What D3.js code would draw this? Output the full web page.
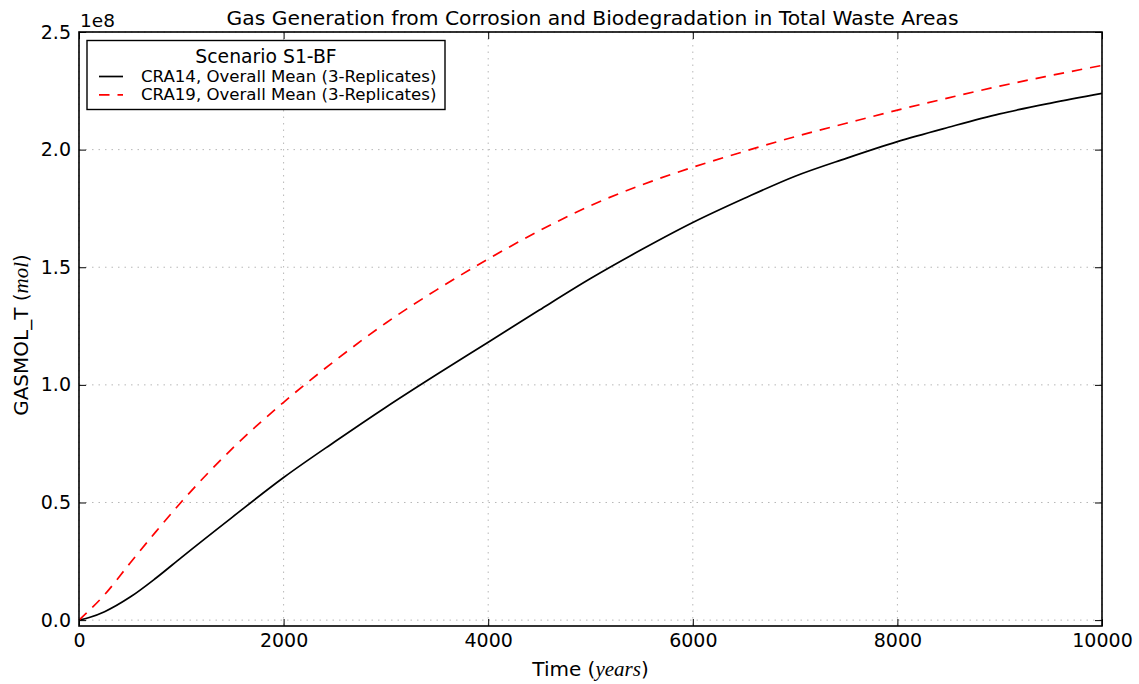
<!DOCTYPE html>
<html>
<head>
<meta charset="utf-8">
<script src="https://cdn.jsdelivr.net/npm/d3@7/dist/d3.min.js"></script>
<style>
  html, body { margin: 0; padding: 0; background: #fff; }
  svg { display: block; }
  text { font-family: "DejaVu Sans", sans-serif; fill: #000; }
</style>
</head>
<body>
<svg id="chart" width="1139" height="684"></svg>
<script>
// ---- data (values in units of 1e8 mol) ----
const years = [0, 100, 250, 500, 750, 1000, 1500, 2000, 2500, 3000, 3500, 4000, 4500, 5000, 5500, 6000, 6500, 7000, 7500, 8000, 8500, 9000, 9500, 10000];
const cra14 = [0, 0.011, 0.036, 0.098, 0.178, 0.266, 0.438, 0.606, 0.758, 0.905, 1.045, 1.181, 1.318, 1.452, 1.575, 1.69, 1.792, 1.887, 1.963, 2.034, 2.095, 2.152, 2.198, 2.239];
const cra19 = [0, 0.041, 0.108, 0.243, 0.375, 0.502, 0.73, 0.926, 1.102, 1.263, 1.405, 1.535, 1.655, 1.762, 1.85, 1.925, 1.992, 2.055, 2.112, 2.168, 2.22, 2.27, 2.315, 2.358];
const xTicks = [0, 2000, 4000, 6000, 8000, 10000];
const yTicks = [0.0, 0.5, 1.0, 1.5, 2.0, 2.5];
const seriesNames = ["CRA14, Overall Mean (3-Replicates)", "CRA19, Overall Mean (3-Replicates)"];
const titleText = "Gas Generation from Corrosion and Biodegradation in Total Waste Areas";
const legendTitle = "Scenario S1-BF";

// ---- layout ----
const L = 79, R = 1102, T = 32, B = 626;
const svg = d3.select("#chart");
const x = d3.scaleLinear().domain([0, 10000]).range([L, R]);
const y = d3.scaleLinear().domain([-0.025, 2.5]).range([B, T]);

// grid
const grid = svg.append("g").attr("stroke", "#b8b8b8").attr("stroke-width", 1).attr("stroke-dasharray", "1.5,5");
grid.selectAll("line.gx").data(xTicks).join("line")
  .attr("x1", d => x(d)).attr("x2", d => x(d)).attr("y1", T).attr("y2", B);
grid.selectAll("line.gy").data(yTicks).join("line")
  .attr("y1", d => y(d)).attr("y2", d => y(d)).attr("x1", L).attr("x2", R);

// lines
const mk = vals => d3.line().x((d, i) => x(years[i])).y(d => y(d)).curve(d3.curveMonotoneX)(vals);
svg.append("path").attr("d", mk(cra14)).attr("fill", "none").attr("stroke", "#000").attr("stroke-width", 1.7);
svg.append("path").attr("d", mk(cra19)).attr("fill", "none").attr("stroke", "#ff0000").attr("stroke-width", 1.7).attr("stroke-dasharray", "10.5,8");

// axes (inward ticks on all sides)
const fmtY = d3.format(".1f");
const axB = svg.append("g").attr("transform", `translate(0,${B})`)
  .call(d3.axisBottom(x).tickValues(xTicks).tickSizeInner(-7).tickSizeOuter(0).tickPadding(8).tickFormat(d3.format("d")));
const axT = svg.append("g").attr("transform", `translate(0,${T})`)
  .call(d3.axisTop(x).tickValues(xTicks).tickSizeInner(-7).tickSizeOuter(0).tickFormat(""));
const axL = svg.append("g").attr("transform", `translate(${L},0)`)
  .call(d3.axisLeft(y).tickValues(yTicks).tickSizeInner(-7).tickSizeOuter(0).tickPadding(8).tickFormat(fmtY));
const axR = svg.append("g").attr("transform", `translate(${R},0)`)
  .call(d3.axisRight(y).tickValues(yTicks).tickSizeInner(-7).tickSizeOuter(0).tickFormat(""));
[axB, axT, axL, axR].forEach(a => {
  a.select(".domain").remove();
  a.selectAll(".tick line").attr("stroke", "#000").attr("stroke-width", 1);
  a.selectAll("text").style("font-family", "DejaVu Sans").style("font-size", "19px").attr("fill", "#000");
});

// frame
svg.append("rect").attr("x", L).attr("y", T).attr("width", R - L).attr("height", B - T)
  .attr("fill", "none").attr("stroke", "#000").attr("stroke-width", 1.6);

// offset text
svg.append("text").attr("x", 80).attr("y", 27).style("font-size", "18.5px").text("1e8");

// title
svg.append("text").attr("x", (L + R) / 2 + 2).attr("y", 25).attr("text-anchor", "middle").style("font-size", "20.3px").text(titleText);

// x label
const xl = svg.append("text").attr("x", (L + R) / 2).attr("y", 676).attr("text-anchor", "middle").style("font-size", "20px");
xl.append("tspan").text("Time (");
xl.append("tspan").style("font-family", "Liberation Serif").style("font-style", "italic").style("font-size", "21px").text("years");
xl.append("tspan").text(")");

// y label
const yl = svg.append("text").attr("transform", `translate(28,${(T + B) / 2 + 6}) rotate(-90)`).attr("text-anchor", "middle").style("font-size", "20px");
yl.append("tspan").text("GASMOL_T  (");
yl.append("tspan").style("font-family", "Liberation Serif").style("font-style", "italic").style("font-size", "21px").text("mol");
yl.append("tspan").text(")");

// legend
const lg = svg.append("g");
lg.append("rect").attr("x", 87).attr("y", 40.5).attr("width", 358).attr("height", 69)
  .attr("fill", "#fff").attr("stroke", "#000").attr("stroke-width", 1.4);
lg.append("text").attr("x", 266).attr("y", 62.5).attr("text-anchor", "middle").style("font-size", "18.8px").text(legendTitle);
const colors = ["#000", "#ff0000"];
const dashes = [null, "10.5,8"];
seriesNames.forEach((n, i) => {
  const yy = 76.5 + i * 18.3;
  lg.append("line").attr("x1", 99).attr("x2", 123).attr("y1", yy).attr("y2", yy)
    .attr("stroke", colors[i]).attr("stroke-width", 1.7).attr("stroke-dasharray", dashes[i]);
  lg.append("text").attr("x", 141).attr("y", yy + 5.5).style("font-size", "16.6px").text(n);
});
</script>
</body>
</html>
